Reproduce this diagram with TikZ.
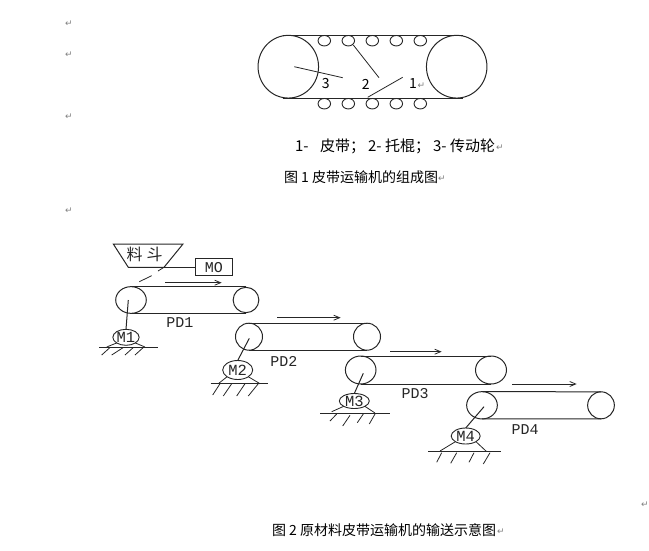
\documentclass[tikz,border=0pt]{standalone}
\usepackage{fontspec}
\setmainfont{Noto Sans CJK SC}
\newfontfamily\monolab{Liberation Mono}
\newfontfamily\symfont{DejaVu Sans}
\usetikzlibrary{shapes.geometric,arrows.meta}
\definecolor{ink}{gray}{0.15}
\definecolor{markgray}{gray}{0.5}
\tikzset{
  every node/.style={inner sep=0pt,outer sep=0pt},
  line/.style={draw=ink,line width=1pt},
  thin line/.style={draw=ink,line width=0.8pt},
  pulley/.style={ellipse,draw=ink,line width=1pt},
  roller/.style={ellipse,draw=ink,line width=0.9pt,minimum width=12.5pt,minimum height=10.5pt},
  motor/.style={ellipse,draw=ink,line width=0.9pt,font=\monolab\fontsize{15.5}{15.5}\selectfont,text=ink},
  lab/.style={font=\monolab\fontsize{15}{15}\selectfont,text=ink},
  captext/.style={anchor=west,font=\fontsize{14}{14}\selectfont,text=black},
  num/.style={font=\fontsize{14}{14}\selectfont,text=black},
  retmark/.style={font=\symfont\fontsize{9}{9}\selectfont,text=markgray},
  flow/.style={thin line,-{Straight Barb[length=6pt,width=5pt]}}
}
\begin{document}
\begin{tikzpicture}[x=1pt,y=-1pt]
\useasboundingbox (0,0) rectangle (649,550);
% paragraph marks
\node[retmark] (r1) at (69,23.5) {↵};
\node[retmark] (r2) at (69,54.5) {↵};
\node[retmark] (r3) at (69,116.5) {↵};
\node[retmark] (r4) at (69,210.5) {↵};
\node[retmark] (r5) at (645,504.5) {↵};
% Figure 1
\node[pulley,minimum width=60.5pt,minimum height=62.7pt] (fl) at (288.3,66.7) {};
\node[pulley,minimum width=60.5pt,minimum height=62.7pt] (fr) at (456.7,66.7) {};
\coordinate (ft1) at (282.7,35.3);
\coordinate (ft2) at (462.7,35.3);
\coordinate (fb1) at (282.7,98);
\coordinate (fb2) at (462.7,98);
\draw[line] (ft1) -- (ft2);
\draw[line] (fb1) -- (fb2);
\node[roller] (t1) at (324.3,40.7) {};
\node[roller] (t2) at (348.3,40.7) {};
\node[roller] (t3) at (372.3,40.7) {};
\node[roller] (t4) at (396.3,40.7) {};
\node[roller] (t5) at (420.3,40.7) {};
\node[roller] (b1) at (324.3,103.7) {};
\node[roller] (b2) at (348.3,103.7) {};
\node[roller] (b3) at (372.3,103.7) {};
\node[roller] (b4) at (396.3,103.7) {};
\node[roller] (b5) at (420.3,103.7) {};
\node[num] (n3) at (325.7,84) {3};
\node[num] (n2) at (365.7,84) {2};
\node[num] (n1) at (413,84) {1};
\node[retmark] (r6) at (421.5,86) {↵};
\coordinate (e3a) at (294.3,66.7);
\coordinate (e3b) at (342.7,77.7);
\coordinate (e2a) at (353.3,45);
\coordinate (e2b) at (379,77.7);
\coordinate (e1a) at (367.7,97.3);
\coordinate (e1b) at (402.7,77.3);
\draw[thin line] (e3a) -- (e3b);
\draw[thin line] (e2a) -- (e2b);
\draw[thin line] (e1a) -- (e1b);
\node[captext,font=\fontsize{15}{15}\selectfont] (c1) at (295,146) {1-\hspace{11.5pt}皮带；\hspace{3pt}2-\hspace{3.5pt}托棍；\hspace{3pt}3-\hspace{3.5pt}传动轮};
\node[retmark] (r7) at (500,148) {↵};
\node[captext] (c2) at (284,177) {图 1 皮带运输机的组成图};
\node[retmark] (r8) at (442,179) {↵};
\node[captext] (c3) at (272,530) {图 2 原材料皮带运输机的输送示意图};
\node[retmark] (r9) at (501,532) {↵};
% Hopper and MO
\coordinate (h0) at (113.3,244);
\coordinate (h3) at (183,244);
\coordinate (h1) at (164,267.3);
\coordinate (h2) at (128.3,267.3);
\draw[line] (h0) -- (h3) -- (h1) -- (h2) -- cycle;
\node[font=\fontsize{16}{16}\selectfont,text=ink] (hop) at (144.5,254.5) {料\hspace{4pt}斗};
\node[draw=ink,line width=1pt,minimum width=37pt,minimum height=16.7pt,font=\monolab\fontsize{15}{15}\selectfont,text=ink] (mo) at (213.8,267.3) {MO};
\coordinate (d1) at (158,271);
\coordinate (d2) at (151.7,275.7);
\coordinate (d3) at (139.3,281.7);
\draw[thin line] (h1) -- (mo.west);
\draw[thin line] (h1) -- (d1);
\draw[thin line] (d2) -- (d3);
% PD1
\node[pulley,minimum width=30.6pt,minimum height=26.7pt] (p1a) at (131,300) {};
\node[pulley,minimum width=25.7pt,minimum height=25.3pt] (p1b) at (246,300) {};
\draw[line] (p1a.north) -- (p1a.north -| p1b.north);
\draw[line] (p1a.south) -- (p1a.south -| p1b.south);
\coordinate (a1s) at (165,282.7);
\coordinate (a1e) at (221.7,282.7);
\draw[flow] (a1s) -- (a1e);
\node[lab] (l1) at (180,322.3) {PD1};
\node[motor,minimum width=25.4pt,minimum height=16pt] (m1) at (126,337.3) {M1};
\coordinate (s1) at (128.3,300);
\draw[line] (s1) -- (m1.north);
\coordinate (g1a) at (99.3,347);
\coordinate (g1b) at (157.7,347);
\draw[line] (g1a) -- (g1b);
\draw[thin line] (m1.south west) -- (106.7,347) (m1.south east) -- (145,347);
\draw[thin line] (110,347.5) -- (101.7,355) (123.3,347.5) -- (111.7,355) (133.3,347.5) -- (125,355) (143.3,347.5) -- (135,355);
% PD2
\node[pulley,minimum size=27pt] (p2a) at (249,336.7) {};
\node[pulley,minimum size=27pt] (p2b) at (367,336.7) {};
\draw[line] (p2a.north) -- (p2b.north);
\draw[line] (p2a.south) -- (p2b.south);
\coordinate (a2s) at (277.3,317.7);
\coordinate (a2e) at (340.7,317.7);
\draw[flow] (a2s) -- (a2e);
\node[lab] (l2) at (284,361.7) {PD2};
\node[motor,minimum width=30pt,minimum height=19pt] (m2) at (237.7,370) {M2};
\coordinate (s2) at (249.3,338.3);
\draw[line] (s2) -- (m2.north);
\coordinate (g2a) at (210.7,383.7);
\coordinate (g2b) at (268.3,383.7);
\draw[line] (g2a) -- (g2b);
\draw[thin line] (m2.south west) -- (218.3,383.7) (m2.south east) -- (260,383.7);
\draw[thin line] (220,383.7) -- (212.7,395) (231.7,383.7) -- (223.3,396) (245,383.7) -- (236.7,396) (258.3,383.7) -- (248.3,396);
% PD3
\node[pulley,minimum width=30.6pt,minimum height=28pt] (p3a) at (360.7,370) {};
\node[pulley,minimum width=31pt,minimum height=28pt] (p3b) at (491,370) {};
\draw[line] (p3a.north) -- (p3b.north);
\draw[line] (p3a.south) -- (p3b.south);
\coordinate (a3s) at (390,351.7);
\coordinate (a3e) at (441.7,351.7);
\draw[flow] (a3s) -- (a3e);
\node[lab] (l3) at (415,394) {PD3};
\node[motor,minimum width=30pt,minimum height=15pt] (m3) at (354.3,401) {M3};
\coordinate (s3) at (363.3,373.3);
\draw[line] (s3) -- (m3.north);
\coordinate (g3a) at (320,413);
\coordinate (g3b) at (390,413);
\draw[line] (g3a) -- (g3b);
\draw[thin line] (m3.south west) -- (331.7,411.7) (m3.south east) -- (375,413);
\draw[thin line] (336.7,414) -- (330,421) (350,415.3) -- (342.7,426) (363.3,414) -- (357.3,422.7) (375,414) -- (369.3,424);
% PD4
\node[pulley,minimum width=30.7pt,minimum height=27.3pt] (p4a) at (482,405.3) {};
\node[pulley,minimum width=26.7pt,minimum height=27pt] (p4b) at (601,405.3) {};
\draw[line] (p4a.north) -- (p4b.north);
\draw[line] (p4a.south) -- (p4b.south);
\coordinate (a4s) at (512.3,384);
\coordinate (a4e) at (576.7,384);
\draw[flow] (a4s) -- (a4e);
\node[lab] (l4) at (525,430) {PD4};
\node[motor,minimum width=29pt,minimum height=16pt] (m4) at (465.7,436) {M4};
\coordinate (s4) at (484,406.7);
\draw[line] (s4) -- (m4.north);
\coordinate (g4a) at (428.3,451.7);
\coordinate (g4b) at (500.7,451.7);
\draw[line] (g4a) -- (g4b);
\draw[thin line] (m4.south west) -- (440,451) (m4.south east) -- (486.7,451.7);
\draw[thin line] (441.7,452.7) -- (436.7,462.3) (456.7,452.7) -- (450.7,463.3) (474,452.7) -- (469,462.3) (490,452.7) -- (483.3,464);
\end{tikzpicture}
\end{document}
